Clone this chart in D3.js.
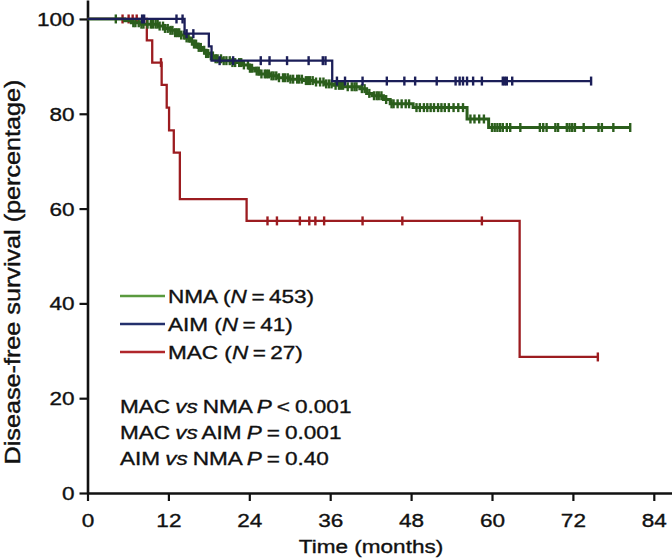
<!DOCTYPE html>
<html><head><meta charset="utf-8">
<script src="https://cdn.jsdelivr.net/npm/d3@7"></script>
<style>body{margin:0;background:#fff}svg{display:block}text{font-family:"Liberation Sans",Arial,sans-serif;fill:#111;stroke:#111;stroke-width:0.35px}</style>
</head><body><svg id="c" width="672" height="558"></svg>
<script>
// ---- data ----
const xTicks = [0, 12, 24, 36, 48, 60, 72, 84];
const yTicks = [0, 20, 40, 60, 80, 100];
const groups = ["NMA", "AIM", "MAC"];
const groupN = [453, 41, 27];
// step curves: [month, survival %]
const nmaSteps = [[0,100],[5.5,99.6],[6.5,99.2],[8,98.9],[10.5,98.5],[11.5,98.0],[12.3,97.6],[13,97.1],[13.8,96.6],[14.5,96.0],[15.2,95.3],[15.8,94.7],[16.4,94.0],[17,93.4],[17.6,92.7],[18.3,92.2],[19,91.6],[20,91.2],[21.5,90.8],[23,90.3],[24,89.6],[24.8,89.0],[25.5,88.4],[27,88.0],[28.2,87.6],[30,87.3],[32,87.0],[33.5,86.7],[35.3,86.3],[36.5,86.0],[38,85.7],[40.4,85.3],[41.4,84.3],[42.2,83.8],[43.9,83.0],[44.9,82.1],[48.3,81.3],[56.3,78.9],[59.5,77.1],[80.5,77.1]];
const aimSteps = [[0,100],[14.4,96.9],[18.0,94.2],[18.4,91.2],[36.3,86.9],[74.7,86.9]];
const macSteps = [[0,100],[8.8,95.5],[9.6,90.8],[11.0,86.1],[11.75,81.3],[12.1,76.5],[12.8,71.8],[13.7,62.0],[23.6,57.4],[64.1,28.7],[75.7,28.7]];
// censoring times (months)
const nmaCensor = [4.2,6.8,7.1,7.6,8.0,8.3,8.9,9.4,9.7,10.1,10.4,10.7,11.2,11.5,11.9,12.3,12.6,13.0,13.3,13.6,13.9,14.3,14.7,15.0,15.5,15.8,16.1,16.5,16.8,17.3,17.6,17.9,18.3,18.6,19.0,19.3,19.8,20.2,20.6,21.1,21.5,21.9,22.5,22.8,23.2,23.8,24.1,24.4,25.1,25.4,25.8,26.3,26.6,26.9,27.3,27.6,28.0,28.4,29.0,29.3,29.7,30.1,30.5,31.1,31.4,31.8,32.4,32.7,33.0,33.4,33.9,34.5,35.0,35.4,35.8,36.2,36.8,37.3,37.6,37.9,38.6,39.2,39.6,39.9,40.7,41.1,41.8,42.5,42.9,43.2,43.6,44.3,45.1,45.4,46.0,46.6,47.2,47.7,48.8,49.3,49.9,50.4,50.9,51.4,52.0,52.5,53.0,53.6,54.3,55.0,55.7,56.8,57.4,58.1,58.8,60.0,60.4,60.8,61.2,61.6,62.2,62.7,64.2,67.1,67.6,68.1,69.4,69.8,71.1,71.5,71.9,72.3,73.6,75.8,76.3,78.0,80.5];
const aimCensor = [8.1,8.4,13.2,14.1,14.7,15.7,19.6,21.6,25.7,27.0,29.6,32.8,34.9,35.3,37.0,38.2,40.8,44.4,47.0,48.6,51.8,54.6,55.2,55.7,56.3,57.2,58.5,61.6,61.9,62.2,63.0,74.7];
const macCensor = [5.2,6.1,6.7,7.3,10.9,26.7,28.1,31.5,32.9,33.8,35.1,40.8,46.7,58.5,75.7];
const pLabels = [["MAC","NMA","< 0.001"],["MAC","AIM","= 0.001"],["AIM","NMA","= 0.40"]];

// ---- styles ----
const curveColors = ["#2b5e1c", "#1b1e58", "#9c1c20"];
const legendColors = ["#5a9a3e", "#24306c", "#b0262b"];
const SX = 1.2, FS = 18.8;

const svg = d3.select("#c");
const x = d3.scaleLinear().domain([0, 86.7]).range([87.5, 672]);
const y = d3.scaleLinear().domain([0, 104]).range([493, 0]);

// axes
const xa = svg.append("g").attr("transform", "translate(0,493)")
  .call(d3.axisBottom(x).tickValues(xTicks).tickSize(8).tickSizeOuter(0).tickFormat(d3.format("d")));
const ya = svg.append("g").attr("transform", "translate(87.5,0)")
  .call(d3.axisLeft(y).tickValues(yTicks).tickSize(8).tickSizeOuter(0).tickFormat(d3.format("d")));
[xa, ya].forEach(a => {
  a.select(".domain").attr("stroke", "#111").attr("stroke-width", 2.6);
  a.selectAll(".tick line").attr("stroke", "#111").attr("stroke-width", 2.2);
  a.selectAll(".tick text").attr("font-size", FS).attr("fill", "#111")
   .attr("font-family", '"Liberation Sans",Arial,sans-serif');
});
xa.selectAll(".tick text").attr("y", 0).attr("dy", 0)
  .attr("transform", `translate(0,34) scale(${SX},1)`);
ya.selectAll(".tick text").attr("x", 0).attr("dy", "0.35em")
  .attr("transform", `translate(-13,0) scale(${SX},1)`);

// curves
const line = d3.line().x(d => x(d[0])).y(d => y(d[1])).curve(d3.curveStepAfter);
const stepsAll = [nmaSteps, aimSteps, macSteps];
const censAll = [nmaCensor, aimCensor, macCensor];
const widths = [3, 2.3, 2.3];
function survAt(steps, t) { let v = steps[0][1]; for (const s of steps) { if (s[0] <= t) v = s[1]; } return v; }
[2, 0, 1].forEach(i => {
  const g = svg.append("g");
  g.append("path").datum(stepsAll[i]).attr("d", line).attr("fill", "none")
    .attr("stroke", curveColors[i]).attr("stroke-width", widths[i]);
  g.selectAll("line.c").data(censAll[i]).join("line").attr("class", "c")
    .attr("x1", d => x(d)).attr("x2", d => x(d))
    .attr("y1", d => y(survAt(stepsAll[i], d)) - 4.5).attr("y2", d => y(survAt(stepsAll[i], d)) + 4.5)
    .attr("stroke", curveColors[i]).attr("stroke-width", 2.4);
});

// legend
const legY = [296, 324, 352];
groups.forEach((gname, i) => {
  svg.append("line").attr("x1", 120).attr("x2", 165).attr("y1", legY[i]).attr("y2", legY[i])
    .attr("stroke", legendColors[i]).attr("stroke-width", 2.6);
  const t = svg.append("text").attr("font-size", FS)
    .attr("transform", `translate(168,${legY[i] + 6.7}) scale(${SX},1)`);
  t.append("tspan").text(gname + " (");
  t.append("tspan").attr("font-style", "italic").text("N");
  t.append("tspan").attr("word-spacing", "-1.5px").text(" = " + groupN[i] + ")");
});

// p-values
const pY = [406, 432, 458];
pLabels.forEach((p, i) => {
  const t = svg.append("text").attr("font-size", FS).attr("word-spacing", "-1px")
    .attr("transform", `translate(120,${pY[i] + 6.7}) scale(${SX},1)`);
  t.append("tspan").text(p[0] + " ");
  t.append("tspan").attr("font-style", "italic").text("vs");
  t.append("tspan").text(" " + p[1] + " ");
  t.append("tspan").attr("font-style", "italic").text("P");
  t.append("tspan").text(" " + p[2]);
});

// axis titles
svg.append("text").attr("font-size", FS).attr("text-anchor", "middle")
  .attr("transform", `translate(371,553) scale(${SX},1)`).text("Time (months)");
svg.append("text").attr("font-size", FS).attr("text-anchor", "middle")
  .attr("textLength", 385).attr("lengthAdjust", "spacingAndGlyphs")
  .attr("transform", `translate(20,272) scale(${SX},1) rotate(-90)`).text("Disease-free survival (percentage)");
</script></body></html>
